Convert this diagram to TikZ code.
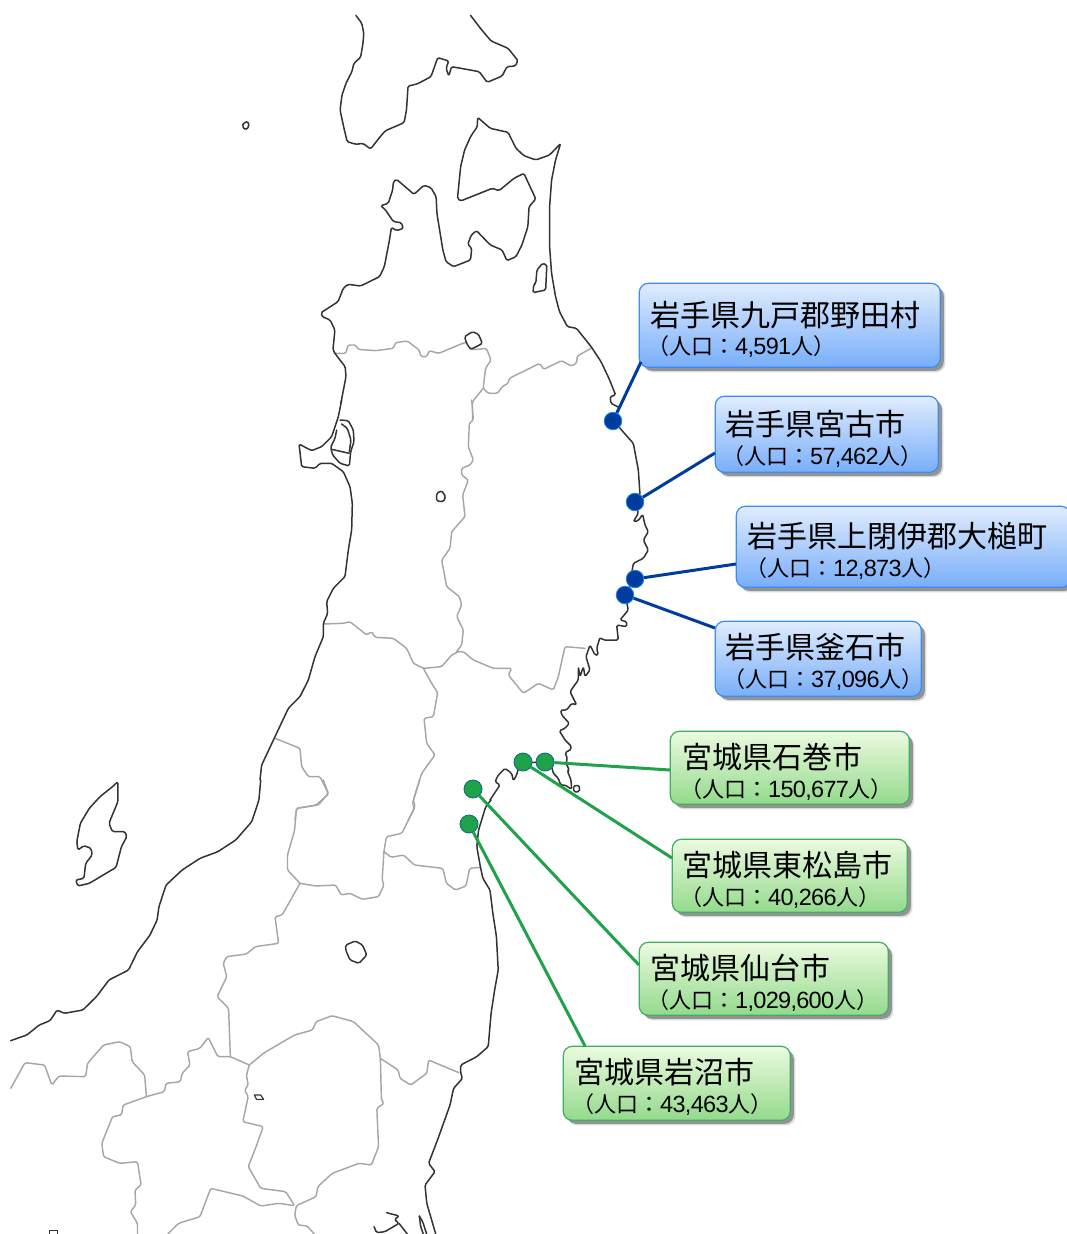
\documentclass[tikz,border=0pt]{standalone}
\usepackage{fontspec}
\usetikzlibrary{shadows}
\newfontfamily\cjk{Noto Sans CJK JP}
\newfontfamily\numfont[LetterSpace=-3]{Liberation Sans}
\newcommand\ttl[1]{{\cjk\fontsize{30}{34}\selectfont #1}}
\newcommand\pop[1]{{\cjk\fontsize{22}{26}\selectfont （人口：}{\numfont\fontsize{23.5}{26}\selectfont #1}{\cjk\fontsize{22}{26}\selectfont 人）}}
\definecolor{coast}{HTML}{333333}
\definecolor{pref}{HTML}{A6A6A6}
\definecolor{bluedot}{HTML}{003C9E}
\definecolor{blueedge}{HTML}{1F7FE0}
\definecolor{greendot}{HTML}{1FA24A}
\definecolor{greenedge}{HTML}{12707A}
\definecolor{blueboxedge}{HTML}{3E8CF0}
\definecolor{blueboxtop}{HTML}{E0ECFD}
\definecolor{blueboxbot}{HTML}{78AEFA}
\definecolor{greenboxedge}{HTML}{3FAE62}
\definecolor{greenboxtop}{HTML}{ECFADF}
\definecolor{greenboxbot}{HTML}{93DA8C}
\tikzset{
 coastline/.style={draw=coast,line width=1.5pt,line join=round,line cap=round,rounded corners=1.5pt},
 prefline/.style={draw=pref,line width=1.45pt,line join=round,line cap=round,rounded corners=1.5pt},
 zb/.style={x=0.3954pt,y=-0.33333pt},
 zc/.style={shift={(250,400)},x=0.33333pt,y=-0.33333pt},
 zd/.style={shift={(0,780)},x=0.35714pt,y=-0.33333pt},
 ze/.style={shift={(490,730)},x=0.33333pt,y=-0.33333pt},
 zf/.style={shift={(290,410)},x=0.33333pt,y=-0.33333pt},
 zg/.style={shift={(0,1190)},x=0.33333pt,y=-0.33333pt},
 softshadow/.style={general shadow={shadow xshift=5pt,shadow yshift=-5pt,fill=black,opacity=.14},
   general shadow={shadow xshift=3.5pt,shadow yshift=-3.5pt,fill=black,opacity=.33}},
 bluebox/.style={rectangle,rounded corners=9pt,draw=blueboxedge,line width=1.2pt,softshadow,top color=blueboxtop,bottom color=blueboxbot,anchor=north west,inner sep=0pt},
 greenbox/.style={rectangle,rounded corners=9pt,draw=greenboxedge,line width=1.2pt,softshadow,top color=greenboxtop,bottom color=greenboxbot,anchor=north west,inner sep=0pt},
 label text/.style={anchor=west,inner sep=0pt,text=black},
 bluedotn/.style={circle,inner sep=0pt,minimum size=17.5pt,fill=bluedot,draw=blueedge,line width=.9pt},
 greendotn/.style={circle,inner sep=0pt,minimum size=18pt,fill=greendot,draw=greenedge,line width=.9pt},
 blueline/.style={draw=bluedot,line width=3pt},
 greenline/.style={draw=greendot,line width=3pt},
}
\begin{document}
\begin{tikzpicture}[x=1pt,y=-1pt]
\useasboundingbox (0,0) rectangle (1067,1234);
% ---- prefecture borders
\begin{scope}[zb]
\draw[prefline] (845,1060)--(875,1060)--(880,1035)--(900,1035)--(905,1048)--(950,1052)--(995,1045)--(1000,1028)--(1030,1023)--(1060,1050)--(1065,1070)--(1080,1070)--(1085,1052)--(1110,1060)--(1170,1030)--(1180,1027);
\draw[prefline] (1190,1048)--(1210,1048)--(1230,1045)--(1242,1080)--(1228,1105)--(1222,1165)--(1235,1180)--(1258,1180)--(1270,1160)--(1285,1150)--(1288,1135)--(1365,1090)--(1375,1108)--(1420,1082)--(1445,1098)--(1458,1090)--(1460,1068)--(1498,1043);
\draw[prefline] (1222,1165)--(1195,1205)--(1195,1260);
\end{scope}
\begin{scope}[zc]
\draw[prefline] (665,0)--(670,60)--(658,70)--(655,140)--(670,180)--(660,195)--(635,205)--(635,225)--(655,240)--(638,285)--(645,350)--(605,395)--(600,445)--(575,480)--(590,560)--(628,590)--(635,615)--(620,650)--(640,690)--(635,735)--(620,755);
\draw[prefline] (620,755)--(640,755)--(670,780)--(730,805)--(785,805)--(775,825)--(820,880)--(865,850)--(910,870)--(925,830)--(945,740)--(1005,745);
\draw[prefline] (625,755)--(605,765)--(575,800)--(520,805)--(490,790)--(470,745)--(430,715)--(375,712)--(365,695)--(350,705)--(300,665)--(280,670)--(220,672);
\draw[prefline] (520,805)--(545,850)--(563,878)--(550,950)--(522,955)--(530,1030)--(555,1065)--(515,1120)--(490,1200)--(495,1220)--(475,1260);
\draw[prefline] (75,1015)--(150,1045)--(155,1100)--(175,1130)--(210,1130)--(235,1180)--(205,1215)--(140,1225)--(135,1260);
\end{scope}
\begin{scope}[zd]
\draw[prefline] (1175,0)--(1155,70)--(1160,85)--(1125,160)--(1082,170)--(1075,215);
\draw[prefline] (1075,215)--(1095,232)--(1130,225)--(1160,255)--(1240,265)--(1250,310)--(1275,330)--(1305,318)--(1315,265)--(1345,262);
\draw[prefline] (1075,215)--(1070,300)--(1075,315)--(1060,350)--(1015,358)--(980,340)--(955,345)--(940,315)--(885,318)--(840,310);
\draw[prefline] (905,0)--(920,42)--(885,75)--(830,85)--(825,150)--(805,225)--(805,270)--(840,310);
\draw[prefline] (840,310)--(790,405)--(770,410)--(780,490)--(715,500)--(690,522)--(635,530)--(625,550)--(635,590)--(608,650)--(640,685)--(645,830);
\draw[prefline] (698,855)--(645,830)--(610,830)--(583,772)--(560,805)--(525,815)--(532,855)--(510,880)--(505,905)--(465,910)--(460,935)--(410,950)--(345,975)--(340,1005)--(315,1010)--(285,1090)--(290,1130)--(335,1150)--(385,1145)--(395,1215)--(378,1230)--(380,1275)--(365,1295)--(385,1330)--(385,1362);
\draw[prefline] (698,855)--(740,818)--(825,765)--(875,750)--(885,725)--(930,707)--(990,725)--(1060,795)--(1065,835)--(1068,960)--(1075,970)--(1055,985)--(1060,1100)--(1040,1155)--(1005,1150)--(930,1180)--(890,1220)--(885,1250)--(830,1277)--(825,1305)--(835,1335)--(860,1338)--(880,1362);
\draw[prefline] (698,855)--(690,885)--(695,915)--(685,930)--(695,950)--(680,1025)--(737,1040)--(717,1100)--(695,1160)--(730,1225)--(800,1235)--(825,1277)--(780,1270)--(730,1278)--(680,1248)--(590,1225)--(560,1310)--(500,1330)--(470,1362);
\draw[prefline] (1065,835)--(1115,870)--(1120,895)--(1150,915)--(1195,880)--(1200,840)--(1285,878);
\draw[prefline] (30,925)--(70,848)--(125,855)--(145,915)--(165,888)--(240,890)--(245,850)--(290,795)--(335,785)--(365,800)--(370,845)--(405,885)--(410,950);
\end{scope}
% ---- coast
\begin{scope}[zb]
\draw[coastline] (900,46)--(915,70)--(920,100)--(918,130)--(912,172)--(895,190)--(890,215)--(875,250)--(865,285)--(860,330)--(870,385)--(878,425)--(900,433)--(918,430)--(937,447)--(965,405)--(975,392)--(1022,368)--(1028,330)--(1032,258)--(1055,252)--(1090,230)--(1107,173)--(1135,183)--(1128,205)--(1135,228)--(1142,200)--(1212,215)--(1232,247)--(1270,228)--(1282,200)--(1303,198)--(1310,182)--(1285,145)--(1242,123)--(1215,85)--(1190,46);
\draw[coastline] (615,370)--(627,364)--(630,380)--(620,390)--(613,378)--cycle;
\draw[coastline] (862,1210)--(875,1130)--(873,1100)--(850,1065)--(842,1050)--(847,990)--(835,960)--(815,950)--(812,938)--(855,905)--(868,865)--(880,853)--(912,858)--(960,830)--(972,800)--(985,720)--(990,682)--(1003,692)--(1020,685)--(1015,668)--(995,665)--(975,630)--(963,617)--(982,610)--(993,570)--(995,545)--(1003,538)--(1047,583)--(1072,556)--(1090,563)--(1103,590)--(1105,640)--(1120,750)--(1128,785)--(1147,800)--(1190,780)--(1193,745)--(1183,733)--(1192,705)--(1205,692)--(1240,735)--(1270,750)--(1282,782)--(1305,770)--(1320,735)--(1335,680)--(1338,620)--(1355,597)--(1325,520)--(1300,535)--(1262,572)--(1245,565)--(1165,603)--(1157,595)--(1165,500)--(1175,450)--(1190,410)--(1207,380)--(1208,352)--(1240,385)--(1285,397)--(1305,445)--(1325,467)--(1355,480)--(1390,465)--(1418,430)--(1405,480)--(1395,540)--(1390,620)--(1390,740)--(1395,820)--(1405,890)--(1415,935)--(1435,980)--(1458,985)--(1495,1040)--(1520,1085)--(1540,1135)--(1557,1185)--(1543,1190)--(1545,1210)--(1565,1222);
\draw[coastline] (1175,1010)--(1195,995)--(1210,1003)--(1220,1030)--(1205,1040)--(1190,1048)--(1180,1030)--cycle;
\draw[coastline] (1348,878)--(1350,853)--(1355,850)--(1358,810)--(1372,790)--(1383,795)--(1380,870)--cycle;
\end{scope}
\begin{scope}[zc]
\draw[coastline] (1107,21)--(1095,60)--(1110,85)--(1150,130)--(1165,210)--(1170,285)--(1155,305)--(1165,340)--(1150,365)--(1165,362)--(1178,343)--(1185,375)--(1195,395)--(1180,420)--(1195,450)--(1180,475)--(1150,490)--(1145,520)--(1155,535)--(1125,585)--(1135,630)--(1110,660)--(1130,665)--(1130,680)--(1100,675)--(1105,720)--(1060,720)--(1050,712)--(1040,745)--(1045,765)--(1035,765)--(1020,735)--(1008,770)--(1020,810)--(1005,830)--(1000,800)--(990,830)--(985,800)--(985,840)--(960,875)--(980,915)--(965,910)--(950,930)--(932,930)--(935,945)--(958,970)--(945,985)--(928,992)--(945,1020)--(965,1040)--(960,1050);
\draw[coastline] (275,0)--(265,50)--(245,110)--(215,140)--(185,152)--(147,132)--(155,200)--(195,205)--(210,190)--(245,190)--(280,215)--(300,260)--(307,310)--(305,390)--(295,450)--(285,530)--(250,565)--(230,605)--(233,640)--(220,670)--(220,710)--(195,770)--(175,840)--(150,890)--(115,925)--(75,1010)--(35,1095)--(30,1140);
\draw[coastline] (560,280)--(575,272)--(587,290)--(580,305)--(560,303)--cycle;
\end{scope}
\begin{scope}[zf]
\draw[coastline] (150,30)--(175,32)--(190,60)--(192,95)--(182,125)--(178,168)--(150,160)--(128,135)--(122,112)--(135,85)--(140,60);
\draw[coastline] (125,118)--(178,130);
\draw[coastline] (155,42)--(172,55)--(183,90)--(178,125);
\end{scope}
\begin{scope}[ze]
\draw[coastline] (240,60)--(225,68)--(232,85)--(228,100)--(238,120)--(232,122)--(243,150)--(245,178)--(225,165)--(212,165)--(205,145)--(190,130)--(185,110)--(183,97)--(100,97)--(85,115)--(80,135)--(70,152)--(65,130)--(45,115)--(25,135)--(15,155)--(30,165)--(0,210);
\draw[coastline] (250,168)--(268,166)--(268,185)--(252,186)--cycle;
\end{scope}
\begin{scope}[zd]
\draw[coastline] (1375,60)--(1360,80)--(1340,150)--(1335,200)--(1345,260)--(1352,295)--(1372,330)--(1380,400)--(1390,470)--(1395,570)--(1385,630)--(1375,700)--(1367,800)--(1335,830)--(1290,855)--(1290,880)--(1295,895)--(1270,925)--(1260,975)--(1245,1020)--(1225,1080)--(1200,1150)--(1218,1175)--(1190,1215)--(1195,1270)--(1220,1362);
\draw[coastline] (730,0)--(725,60)--(705,125)--(660,180)--(610,215)--(560,235)--(510,270)--(465,315)--(445,380)--(440,420)--(420,465)--(385,515)--(360,570)--(305,600)--(270,650)--(232,690)--(180,700)--(160,690)--(140,722)--(110,735)--(75,765)--(30,782);
\draw[coastline] (330,5)--(330,65)--(305,130)--(315,155)--(350,155)--(355,170)--(340,200)--(325,262)--(250,310)--(218,318)--(212,300)--(235,295)--(240,250)--(258,225)--(255,205)--(235,197)--(218,210)--(215,185)--(225,130)--(250,85)--(280,50)--(315,20)--cycle;
\draw[coastline] (968,495)--(995,483)--(1015,495)--(1027,525)--(1005,550)--(980,540)--(968,510)--cycle;
\draw[coastline,line width=1.1pt,rounded corners=0pt] (712,945)--(730,945)--(738,958)--(718,958)--cycle;
\end{scope}
\begin{scope}[zg]
\draw[coastline] (1160,68)--(1198,78)--(1183,88)--(1197,100)--(1155,125)--(1130,128)--(1122,110);
\draw[coastline] (1197,100)--(1222,132);
\draw[coastline] (1258,78)--(1268,95)--(1280,132);
\draw[coastline] (1258,78)--(1262,110)--(1270,132);
\draw[coastline,rounded corners=0pt] (148,132)--(148,122)--(172,122)--(172,132);
\end{scope}
% ---- boxes
\node[bluebox,minimum width=301pt,minimum height=84pt] (b1) at (638.7,282.7) {};
\node[bluebox,minimum width=223pt,minimum height=76pt] (b2) at (714.7,395.7) {};
\node[bluebox,minimum width=334pt,minimum height=81pt] (b3) at (735.7,505.7) {};
\node[bluebox,minimum width=206pt,minimum height=75pt] (b4) at (714.7,620.7) {};
\node[greenbox,minimum width=239pt,minimum height=73pt] (b5) at (669.7,730.7) {};
\node[greenbox,minimum width=235pt,minimum height=73pt] (b6) at (671.7,838.7) {};
\node[greenbox,minimum width=249pt,minimum height=73pt] (b7) at (638.7,941.7) {};
\node[greenbox,minimum width=227pt,minimum height=74pt] (b8) at (562.7,1045.7) {};
% ---- texts
\node[label text] (t1) at (650,315) {\ttl{岩手県九戸郡野田村}};
\node[label text] (s1) at (647,346.5) {\pop{4,591}};
\node[label text] (t2) at (725,424) {\ttl{岩手県宮古市}};
\node[label text] (s2) at (722,456.5) {\pop{57,462}};
\node[label text] (t3) at (747,536) {\ttl{岩手県上閉伊郡大槌町}};
\node[label text] (s3) at (745,568.5) {\pop{12,873}};
\node[label text] (t4) at (725,647) {\ttl{岩手県釜石市}};
\node[label text] (s4) at (723,679.5) {\pop{37,096}};
\node[label text] (t5) at (682,757) {\ttl{宮城県石巻市}};
\node[label text] (s5) at (680,789.5) {\pop{150,677}};
\node[label text] (t6) at (682,865) {\ttl{宮城県東松島市}};
\node[label text] (s6) at (680,897.5) {\pop{40,266}};
\node[label text] (t7) at (650,968) {\ttl{宮城県仙台市}};
\node[label text] (s7) at (647,1000.5) {\pop{1,029,600}};
\node[label text] (t8) at (574,1072) {\ttl{宮城県岩沼市}};
\node[label text] (s8) at (572,1104.5) {\pop{43,463}};
% ---- dots
\node[bluedotn] (d1) at (613,421) {};
\node[bluedotn] (d2) at (635,502) {};
\node[bluedotn] (d3) at (635,579) {};
\node[bluedotn] (d4) at (625,595) {};
\node[greendotn] (d5) at (545,762) {};
\node[greendotn] (d6) at (523,762) {};
\node[greendotn] (d7) at (473,789) {};
\node[greendotn] (d8) at (469,824) {};
% ---- connector ends on the boxes
\coordinate (c1) at (641,362);
\coordinate (c2) at (715,453);
\coordinate (c3) at (736,564);
\coordinate (c4) at (715,628);
\coordinate (c5) at (670,770);
\coordinate (c6) at (672,858);
\coordinate (c7) at (639,965);
\coordinate (c8) at (585,1046);
\draw[blueline] (d1)--(c1);
\draw[blueline] (d2)--(c2);
\draw[blueline] (d3)--(c3);
\draw[blueline] (d4)--(c4);
\draw[greenline] (d5)--(c5);
\draw[greenline] (d6)--(c6);
\draw[greenline] (d7)--(c7);
\draw[greenline] (d8)--(c8);
\end{tikzpicture}
\end{document}
